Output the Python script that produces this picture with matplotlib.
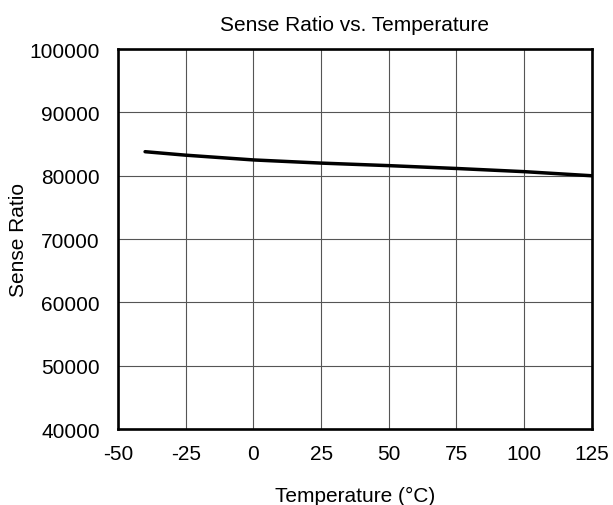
import numpy as np
import matplotlib
matplotlib.use("Agg")
from matplotlib import pyplot as plt

plt.rcParams["font.family"] = ["Liberation Sans", "DejaVu Sans"]
plt.rcParams["axes.unicode_minus"] = False

temp = [-40, -25, 0, 25, 50, 75, 100, 125]
ratio = [83800, 83250, 82500, 82000, 81600, 81150, 80650, 80000]

xticks = [-50, -25, 0, 25, 50, 75, 100, 125]
yticks = [40000, 50000, 60000, 70000, 80000, 90000, 100000]

fig = plt.figure(figsize=(6.13, 5.06), dpi=100)
ax = fig.add_axes([0.1925, 0.150, 0.773, 0.751])

ax.plot(temp, ratio, color="black", lw=2.5, solid_capstyle="round")

ax.set_xlim(-50, 125)
ax.set_ylim(40000, 100000)
ax.set_xticks(xticks)
ax.set_yticks(yticks)
ax.tick_params(length=0, labelsize=15)
ax.tick_params(axis="x", pad=11)
ax.tick_params(axis="y", pad=13)
ax.grid(True, color="#555555", lw=0.8)
for s in ax.spines.values():
    s.set_linewidth(1.9)
    s.set_color("black")

ax.set_title("Sense Ratio vs. Temperature", fontsize=15, pad=14)
ax.set_xlabel("Temperature (\u00b0C)", fontsize=15, labelpad=16)
ax.set_ylabel("Sense Ratio", fontsize=15, labelpad=1)

fig.savefig("out.png", dpi=100)
